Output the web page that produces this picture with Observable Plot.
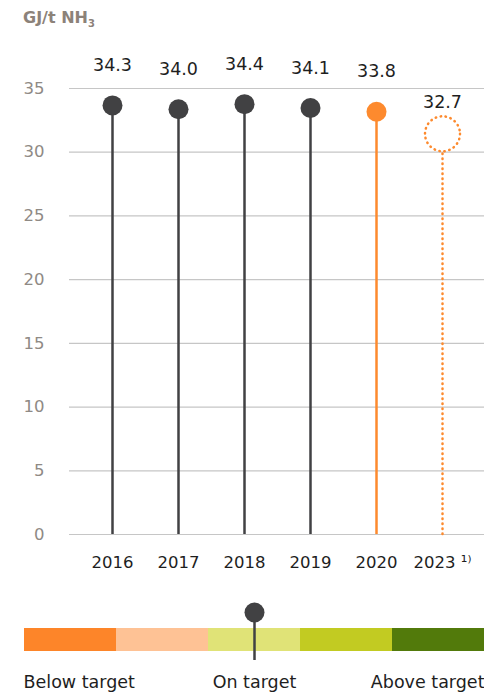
<!DOCTYPE html>
<html><head><meta charset="utf-8">
<script src="https://cdn.jsdelivr.net/npm/d3@7"></script>
<script src="https://cdn.jsdelivr.net/npm/@observablehq/plot@0.6"></script>
<style>
body{margin:0;background:#fff;font-family:"DejaVu Sans",sans-serif;}
#wrap{position:relative;width:484px;height:696px;overflow:hidden;}
#unit{position:absolute;left:23px;top:8px;font-size:16px;font-weight:700;color:#8c8279;line-height:20px;}
#unit sub{font-size:10px;vertical-align:-4px;line-height:0;}
#chart{position:absolute;left:0;top:0;}
#legend{position:absolute;left:0;top:595px;}
</style></head><body>
<div id="wrap"><div id="chart"></div><div id="unit">GJ/t NH<sub>3</sub></div><div id="legend"></div></div>
<script>
const years = ["2016","2017","2018","2019","2020","2023"];
const values = [34.3, 34.0, 34.4, 34.1, 33.8, 32.7];
const kinds = ["actual","actual","actual","actual","current","target"];
const yTicks = [0,5,10,15,20,25,30,35];
const legendLevels = ["Far below","Below","On","Above","Far above"];
const legendColors = ["#fd8529","#fec295","#e0e377","#c2cb22","#527a0b"];
const legendLabels = ["Below target","On target","Above target"];

const dark = "#414143", orange = "#fd8a2e";
const font = "'DejaVu Sans', sans-serif";
const data = years.map((y,i)=>({year:y, value:values[i], kind:kinds[i]}));
const solid = data.filter(d=>d.kind!=="target");
const target = data.filter(d=>d.kind==="target");
const col = d => d.kind==="actual" ? dark : orange;

const chart = Plot.plot({
  width:484, height:580,
  marginLeft:69, marginRight:0, marginTop:88, marginBottom:46,
  style:{fontFamily:font, fontSize:"16px", background:"transparent"},
  x:{type:"point", domain:years, padding:0.625, label:null},
  y:{domain:[0,35], label:null},
  marks:[
    Plot.gridY(yTicks, {stroke:"#c6c6c6", strokeOpacity:1, strokeWidth:1.2}),
    Plot.axisY(yTicks, {tickSize:0, tickPadding:25, fill:"#8f8a85", fontSize:16.5, label:null}),
    Plot.axisX(years, {tickSize:0, tickPadding:22, fill:"#1e1e1e", fontSize:16.5, label:null,
      tickFormat:d=> d==="2023" ? "2023 \u00b9\u207e" : d}),
    Plot.ruleX(solid, {x:"year", y1:0, y2:"value", stroke:col, strokeWidth:2.5}),
    Plot.ruleX(target, {x:"year", y1:0, y2:"value", stroke:orange, strokeWidth:2.5,
      strokeDasharray:"0.5,4.5", strokeLinecap:"round"}),
    Plot.dot(target, {x:"year", y:"value", r:17.5, dy:16, fill:"white", stroke:orange,
      strokeWidth:2.5, strokeDasharray:"0.5,4.5", strokeLinecap:"round"}),
    Plot.dot(solid, {x:"year", y:"value", r:10, dy:8, fill:col, stroke:"none"}),
    Plot.text(solid, {x:"year", y:"value", text:d=>d.value.toFixed(1), dy:-32, fill:"#1e1e1e", fontSize:17.5}),
    Plot.text(target, {x:"year", y:"value", text:d=>d.value.toFixed(1), dy:-15, fill:"#1e1e1e", fontSize:17.5})
  ]
});
document.getElementById("chart").append(chart);

const legend = Plot.plot({
  width:484, height:101,
  marginLeft:23, marginRight:0, marginTop:33, marginBottom:45,
  style:{fontFamily:font, fontSize:"17.5px", background:"transparent"},
  x:{type:"band", domain:legendLevels, padding:0, axis:null},
  color:{domain:legendLevels, range:legendColors},
  marks:[
    Plot.cell(legendLevels, {x:d=>d, fill:d=>d}),
    Plot.ruleX(["On"], {x:d=>d, stroke:dark, strokeWidth:2.5, insetTop:-16, insetBottom:-9}),
    Plot.dot(["On"], {x:d=>d, frameAnchor:"top", dy:-16, r:10, fill:dark}),
    Plot.text([legendLabels[0]], {frameAnchor:"bottom-left", dy:36, fill:"#1e1e1e"}),
    Plot.text([legendLabels[1]], {x:()=>"On", frameAnchor:"bottom", dy:36, fill:"#1e1e1e"}),
    Plot.text([legendLabels[2]], {frameAnchor:"bottom-right", dy:36, fill:"#1e1e1e"})
  ]
});
document.getElementById("legend").append(legend);
</script>
</body></html>
